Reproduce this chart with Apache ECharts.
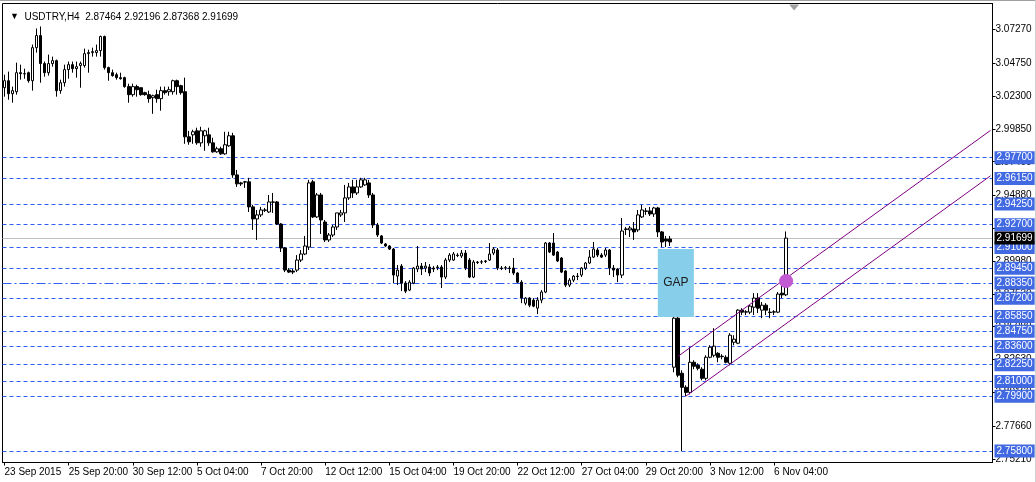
<!DOCTYPE html>
<html><head><meta charset="utf-8">
<script src="https://cdn.jsdelivr.net/npm/echarts@6/dist/echarts.min.js"></script>
<style>html,body{margin:0;padding:0;background:#fff}#c{width:1036px;height:482px}</style>
</head><body><div id="c"></div><script>
// ---- data (USDTRY H4) ----
const opens = [3.0293,3.0345,3.0248,3.0263,3.0405,3.0398,3.0405,3.0345,3.0592,3.0682,
3.0473,3.0405,3.0473,3.0495,3.0271,3.0330,3.0428,3.0465,3.0435,3.0458,
3.0458,3.0547,3.0555,3.0555,3.0570,3.0675,3.0443,3.0405,3.0390,3.0368,
3.0368,3.0301,3.0241,3.0301,3.0293,3.0256,3.0241,3.0218,3.0241,3.0211,
3.0271,3.0263,3.0263,3.0345,3.0308,3.0263,2.9926,2.9941,2.9971,2.9881,
2.9934,2.9941,2.9881,2.9814,2.9837,2.9799,2.9859,2.9934,2.9642,2.9582,
2.9590,2.9590,2.9403,2.9313,2.9343,2.9380,2.9365,2.9440,2.9440,2.9275,
2.9096,2.8931,2.8924,2.8931,2.9006,2.9051,2.9103,2.9590,2.9328,2.9492,
2.9290,2.9156,2.9193,2.9253,2.9343,2.9358,2.9470,2.9552,2.9507,2.9552,
2.9567,2.9582,2.9492,2.9268,2.9186,2.9126,2.9111,2.9088,2.8886,2.8961,
2.8834,2.8782,2.8834,2.8939,2.8961,2.8946,2.8954,2.8946,2.8954,2.8954,
2.8879,2.9006,2.9006,2.9043,2.9036,2.9058,2.9006,2.8879,2.8991,2.8991,
2.8999,2.9006,2.9058,2.9081,2.8946,2.8946,2.8946,2.8946,2.8909,2.8841,
2.8684,2.8722,2.8707,2.8647,2.8707,2.8767,2.9133,2.9133,2.9066,2.9021,
2.8924,2.8819,2.8856,2.8886,2.8894,2.8946,2.8984,2.9028,2.9081,2.9043,
2.9043,2.9081,2.8946,2.8939,2.8894,2.9238,2.9231,2.9238,2.9231,2.9328,
2.9373,2.9373,2.9350,2.9395,2.9216,2.9163,2.9163,2.8206,2.8572,2.8161,
2.8056,2.8018,2.8243,2.8220,2.8191,2.8123,2.8280,2.8295,2.8310,2.8288,
2.8280,2.8235,2.8392,2.8385,2.8632,2.8617,2.8617,2.8654,2.8722,2.8632,
2.8669,2.8617,2.8617,2.8617,2.8759,2.87464];
const highs = [3.0390,3.0413,3.0301,3.0480,3.0465,3.0435,3.0413,3.0615,3.0735,3.0750,
3.0488,3.0540,3.0525,3.0503,3.0353,3.0465,3.0488,3.0488,3.0488,3.0488,
3.0585,3.0577,3.0592,3.0615,3.0682,3.0682,3.0450,3.0428,3.0405,3.0405,
3.0375,3.0323,3.0323,3.0315,3.0293,3.0263,3.0271,3.0241,3.0278,3.0301,
3.0301,3.0301,3.0353,3.0353,3.0315,3.0368,2.9971,2.9979,2.9994,3.0001,
2.9979,2.9994,2.9919,2.9852,2.9852,2.9964,2.9964,2.9956,2.9679,2.9590,
2.9597,2.9620,2.9418,2.9380,2.9403,2.9395,2.9492,2.9507,2.9447,2.9283,
2.9103,2.8946,2.8939,2.9043,2.9081,2.9186,2.9605,2.9605,2.9507,2.9507,
2.9305,2.9208,2.9268,2.9358,2.9380,2.9567,2.9582,2.9605,2.9605,2.9620,
2.9620,2.9605,2.9507,2.9283,2.9193,2.9133,2.9118,2.9096,2.8969,2.8976,
2.8849,2.8856,2.8954,2.9111,2.8984,2.8991,2.8976,2.8961,2.8969,2.8969,
2.9021,2.9058,2.9066,2.9058,2.9081,2.9081,2.9021,2.9006,2.8999,2.9006,
2.9006,2.9133,2.9103,2.9096,2.8961,2.8961,2.8961,2.9021,2.8916,2.8856,
2.8729,2.8729,2.8722,2.8729,2.8782,2.9141,2.9141,2.9208,2.9073,2.9028,
2.8931,2.8871,2.8894,2.8909,2.8954,2.8991,2.9081,2.9141,2.9096,2.9058,
2.9096,2.9088,2.8969,2.8946,2.9320,2.9253,2.9260,2.9290,2.9380,2.9418,
2.9395,2.9403,2.9403,2.9403,2.9223,2.9186,2.9186,2.8580,2.8580,2.8183,
2.8071,2.8355,2.8258,2.8235,2.8206,2.8295,2.8370,2.8497,2.8318,2.8303,
2.8295,2.8460,2.8445,2.8639,2.8647,2.8632,2.8669,2.8759,2.8759,2.8692,
2.8684,2.8647,2.8632,2.8767,2.8834,2.92196];
const lows = [3.0226,3.0203,3.0181,3.0241,3.0353,3.0360,3.0330,3.0271,3.0555,3.0330,
3.0375,3.0383,3.0450,3.0226,3.0248,3.0301,3.0360,3.0405,3.0368,3.0293,
3.0443,3.0405,3.0525,3.0525,3.0525,3.0428,3.0345,3.0375,3.0353,3.0353,
3.0293,3.0181,3.0226,3.0226,3.0233,3.0233,3.0181,3.0098,3.0181,3.0121,
3.0241,3.0233,3.0241,3.0241,3.0241,2.9874,2.9867,2.9874,2.9867,2.9852,
2.9822,2.9859,2.9807,2.9807,2.9792,2.9792,2.9852,2.9620,2.9552,2.9560,
2.9545,2.9365,2.9231,2.9156,2.9328,2.9365,2.9358,2.9358,2.9268,2.9066,
2.8916,2.8909,2.8901,2.8916,2.8991,2.9043,2.9081,2.9320,2.9320,2.9201,
2.9141,2.9141,2.9178,2.9231,2.9328,2.9290,2.9455,2.9470,2.9492,2.9545,
2.9560,2.9470,2.9245,2.9178,2.9126,2.9103,2.9081,2.8834,2.8819,2.8774,
2.8759,2.8774,2.8826,2.8916,2.8894,2.8916,2.8886,2.8916,2.8931,2.8797,
2.8864,2.8991,2.8999,2.9028,2.9021,2.8931,2.8871,2.8871,2.8976,2.8976,
2.8984,2.8999,2.9043,2.8931,2.8931,2.8931,2.8909,2.8894,2.8834,2.8684,
2.8669,2.8654,2.8654,2.8602,2.8684,2.8759,2.9058,2.9036,2.8991,2.8909,
2.8804,2.8804,2.8841,2.8856,2.8879,2.8931,2.8976,2.9021,2.9028,2.9021,
2.9028,2.8894,2.8879,2.8841,2.8871,2.9193,2.9178,2.9156,2.9216,2.9320,
2.9343,2.9335,2.9328,2.9178,2.9103,2.9103,2.9111,2.8168,2.8131,2.7580,
2.7990,2.8003,2.8191,2.8183,2.8108,2.8108,2.8273,2.8280,2.8243,2.8265,
2.8235,2.8220,2.8370,2.8378,2.8595,2.8595,2.8602,2.8595,2.8610,2.8572,
2.8595,2.8572,2.8595,2.8610,2.8722,2.87368];
const closes = [3.0345,3.0248,3.0271,3.0405,3.0398,3.0396,3.0345,3.0592,3.0682,3.0473,
3.0405,3.0473,3.0495,3.0271,3.0330,3.0428,3.0465,3.0435,3.0450,3.0473,
3.0547,3.0555,3.0562,3.0570,3.0675,3.0443,3.0405,3.0383,3.0368,3.0360,
3.0301,3.0241,3.0301,3.0278,3.0241,3.0241,3.0211,3.0233,3.0211,3.0271,
3.0256,3.0278,3.0345,3.0301,3.0256,2.9926,2.9889,2.9964,2.9881,2.9971,
2.9971,2.9881,2.9814,2.9837,2.9799,2.9867,2.9934,2.9642,2.9575,2.9575,
2.9588,2.9403,2.9313,2.9343,2.9380,2.9378,2.9440,2.9438,2.9275,2.9096,
2.8931,2.8916,2.8916,2.9006,2.9051,2.9111,2.9582,2.9328,2.9492,2.9305,
2.9156,2.9193,2.9253,2.9358,2.9358,2.9470,2.9552,2.9507,2.9552,2.9605,
2.9605,2.9492,2.9268,2.9193,2.9133,2.9111,2.9088,2.8894,2.8931,2.8834,
2.8774,2.8841,2.8946,2.8961,2.8939,2.8961,2.8909,2.8939,2.8950,2.8879,
2.9006,2.9043,2.9051,2.9040,2.9058,2.8946,2.8879,2.8991,2.8988,2.8993,
2.8996,2.9051,2.9088,2.8946,2.8943,2.8949,2.8943,2.8909,2.8841,2.8722,
2.8722,2.8669,2.8662,2.8707,2.8767,2.9133,2.9066,2.9043,2.8999,2.8916,
2.8819,2.8856,2.8886,2.8883,2.8946,2.8984,2.9028,2.9088,2.9043,2.9028,
2.9081,2.8946,2.8931,2.8894,2.9223,2.9235,2.9245,2.9216,2.9343,2.9380,
2.9370,2.9350,2.9395,2.9216,2.9141,2.9148,2.9141,2.8572,2.8146,2.8056,
2.8018,2.8243,2.8213,2.8198,2.8123,2.8280,2.8355,2.8363,2.8280,2.8285,
2.8243,2.8445,2.8415,2.8632,2.8617,2.8620,2.8662,2.8722,2.8647,2.8669,
2.8632,2.8614,2.8620,2.8752,2.8746,2.91699];

const xTickLabels = ['23 Sep 2015','25 Sep 20:00','30 Sep 12:00','5 Oct 04:00','7 Oct 20:00','12 Oct 12:00',
  '15 Oct 04:00','19 Oct 20:00','22 Oct 12:00','27 Oct 04:00','29 Oct 20:00','3 Nov 12:00','6 Nov 04:00'];
const barsPerTick = 16;
const shiftBars = 51;               // empty space right of the last bar (chart shift)
const priceTicks = [3.0727,3.0475,3.0230,2.9985,2.9740,2.9488,2.9243,2.8998,2.8753,2.8508,2.8263,2.8016,2.7766,2.7521];
const levels = [2.9770,2.9615,2.9425,2.9270,2.9100,2.8945,2.8720,2.8585,2.8475,2.8360,2.8225,2.8100,2.7990,2.7580];
const pivotLevel = [2.8835];
const lastPrice = [2.91699];
const gapBox = [[163, 2.9088], [172, 2.8580]];
const channelUpper = [[168, 2.8286], [246, 2.9974]];
const channelLower = [[170, 2.7990], [246, 2.9635]];
const markerPoint = [195, 2.8849];
const yRange = [2.74944, 3.09216];
const header = 'USDTRY,H4  2.87464 2.92196 2.87368 2.91699';

// ---- build ----
const nCat = opens.length + shiftBars;
const cats = Array.from({length: nCat}, (_, i) => String(i));
const candles = opens.map((o, i) => [o, closes[i], lows[i], highs[i]]);
const FONT = 'Liberation Sans';
const isTick = i => i % barsPerTick === 0 && i / barsPerTick < xTickLabels.length;
const BLUE = '#2f5ff2';

// extra right-hand axes that draw the horizontal price levels (as split lines) and their boxed labels
const levelAxis = (values, lineStyle, bg) => ({
  type: 'value', position: 'right', min: yRange[0], max: yRange[1], scale: true,
  axisLine: {show: false},
  axisTick: {show: false, customValues: values},
  axisLabel: {customValues: values, formatter: v => v.toFixed(5), margin: 2, fontSize: 10, fontFamily: FONT,
    color: '#fff', backgroundColor: bg, padding: [2, 2, 1, 2], lineHeight: 10},
  splitLine: {show: true, lineStyle: lineStyle}
});

const chart = echarts.init(document.getElementById('c'), null, {renderer: 'canvas'});
chart.setOption({
  animation: false,
  backgroundColor: '#fff',
  title: {
    text: '{t|▼}  ' + header, left: 5, top: 7,
    textStyle: {fontSize: 10, fontWeight: 'normal', color: '#000', fontFamily: FONT,
      rich: {t: {fontSize: 9, color: '#000'}}}
  },
  grid: {left: 2.5, top: 3.5, right: 43.5, bottom: 19.5, show: true, borderColor: '#000',
    borderWidth: 1, backgroundColor: '#fff', containLabel: false, outerBoundsMode: 'none'},
  xAxis: {
    type: 'category', data: cats, boundaryGap: true,
    axisLine: {show: true, lineStyle: {color: '#000', width: 1}},
    axisTick: {show: true, alignWithLabel: true, interval: i => isTick(i), length: 3, lineStyle: {color: '#000'}},
    axisLabel: {interval: i => isTick(i), formatter: v => isTick(+v) ? xTickLabels[+v / barsPerTick] : '',
      align: 'left', margin: 5, fontSize: 10, color: '#000', fontFamily: FONT},
    splitLine: {show: false}
  },
  yAxis: [{
    type: 'value', position: 'right', min: yRange[0], max: yRange[1], scale: true,
    axisLine: {show: true, lineStyle: {color: '#000', width: 1}},
    axisTick: {show: true, customValues: priceTicks, length: 3, lineStyle: {color: '#000'}},
    axisLabel: {customValues: priceTicks, formatter: v => v.toFixed(5), margin: 3, fontSize: 10,
      color: '#000', fontFamily: FONT},
    splitLine: {show: false}
  },
    levelAxis(levels, {color: BLUE, width: 1, type: [4, 3]}, '#4169e1'),
    levelAxis(pivotLevel, {color: BLUE, width: 1, type: [9, 3, 2, 3]}, '#4169e1'),
    levelAxis(lastPrice, {color: '#c0c0c0', width: 1, type: 'solid'}, '#000')
  ],
  series: [{
    type: 'candlestick', data: candles, barWidth: 3, yAxisIndex: 0, z: 3,
    itemStyle: {color: '#fff', color0: '#000', borderColor: '#000', borderColor0: '#000', borderWidth: 1},
    markLine: {silent: true, symbol: 'none', animation: false, data: [channelUpper, channelLower].map(seg => [
      {coord: seg[0], lineStyle: {color: '#800080', width: 1, type: 'solid'}, label: {show: false}},
      {coord: seg[1]}
    ])},
    markArea: {silent: true, data: [[
      {coord: gapBox[0], itemStyle: {color: '#87ceeb'},
        label: {show: true, position: 'inside', formatter: 'GAP', color: '#1a1a1a', fontSize: 12, fontFamily: FONT}},
      {coord: gapBox[1]}
    ]]},
    markPoint: {silent: true, animation: false, data: [
      {coord: markerPoint, symbol: 'circle', symbolSize: 14, itemStyle: {color: '#c25bd3'}, label: {show: false}},
      {coord: [197, yRange[1]], symbol: 'triangle', symbolRotate: 180, symbolSize: [10, 6], symbolOffset: [0, 4],
        itemStyle: {color: '#a0a0a0'}, label: {show: false}}
    ]}
  }],
  graphic: [
    {type: 'rect', shape: {x: 0, y: 0, width: 1036, height: 1}, style: {fill: '#a0a0a0'}, silent: true},
    {type: 'rect', shape: {x: 1035, y: 0, width: 1, height: 482}, style: {fill: '#d0d0d0'}, silent: true}
  ]
});
</script></body></html>
